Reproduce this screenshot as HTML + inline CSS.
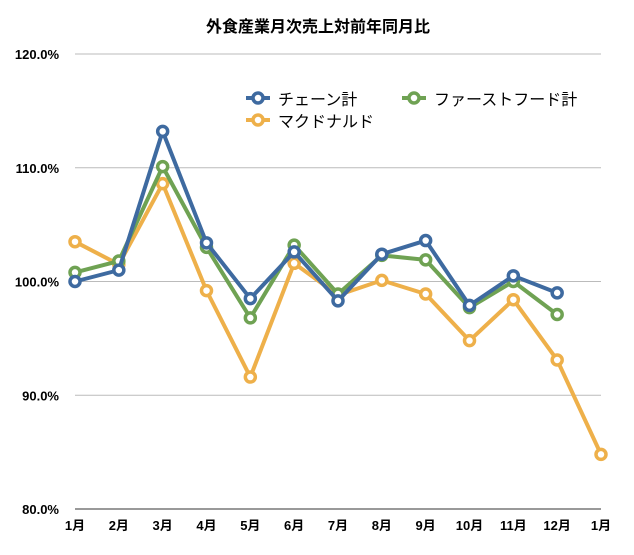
<!DOCTYPE html>
<html><head><meta charset="utf-8"><style>
body{margin:0;background:#fff;}
svg text{font-family:"Liberation Sans","Noto Sans CJK JP",sans-serif;}
</style></head><body>
<svg id="chart" width="634" height="550" xmlns="http://www.w3.org/2000/svg">
<text x="318" y="32" text-anchor="middle" font-size="16" font-weight="bold">外食産業月次売上対前年同月比</text>
<g id="grid"></g><g id="lines"></g>
<g>
 <g><line x1="246" y1="98" x2="270" y2="98" stroke="#3e6aa0" stroke-width="4"/><circle cx="258" cy="98" r="5" fill="#fff" stroke="#3e6aa0" stroke-width="3.5"/><text x="278" y="105" font-size="16">チェーン計</text></g>
 <g><line x1="402" y1="98" x2="426" y2="98" stroke="#6fa253" stroke-width="4"/><circle cx="414" cy="98" r="5" fill="#fff" stroke="#6fa253" stroke-width="3.5"/><text x="434" y="105" font-size="16">ファーストフード計</text></g>
 <g><line x1="246" y1="120" x2="270" y2="120" stroke="#eeb04a" stroke-width="4"/><circle cx="258" cy="120" r="5" fill="#fff" stroke="#eeb04a" stroke-width="3.5"/><text x="278" y="127" font-size="16">マクドナルド</text></g>
</g>
</svg>
<script>
const categories=["1月","2月","3月","4月","5月","6月","7月","8月","9月","10月","11月","12月","1月"];
const yTicks=[80,90,100,110,120];
const chainValues=[100.0,101.0,113.2,103.4,98.5,102.6,98.3,102.4,103.6,97.9,100.5,99.0];
const fastfoodValues=[100.8,101.8,110.1,103.0,96.8,103.2,98.9,102.3,101.9,97.7,100.0,97.1];
const mcdValues=[103.5,101.5,108.6,99.2,91.6,101.6,98.8,100.1,98.9,94.8,98.4,93.1,84.8];
const NS="http://www.w3.org/2000/svg";
const x=i=>75+i*(526/12);
const y=v=>509-(v-80)*11.375;
const grid=document.getElementById('grid');
yTicks.forEach((t,k)=>{
 const l=document.createElementNS(NS,'line');
 
 
 l.setAttribute('x1',75);l.setAttribute('x2',601);l.setAttribute('y1',y(t));l.setAttribute('y2',y(t));
 l.setAttribute('stroke',k===0?'#333':'#bbb');l.setAttribute('stroke-width','1');grid.appendChild(l);
 const tx=document.createElementNS(NS,'text');
 
 
 tx.setAttribute('x',59);tx.setAttribute('y',y(t)+5);tx.setAttribute('text-anchor','end');tx.setAttribute('font-size','13');tx.setAttribute('font-weight','bold');
 tx.textContent=t.toFixed(1)+'%';grid.appendChild(tx);
});
categories.forEach((c,i)=>{
 const tx=document.createElementNS(NS,'text');
 
 
 tx.setAttribute('x',x(i));tx.setAttribute('y',530);tx.setAttribute('text-anchor','middle');tx.setAttribute('font-size','13');tx.setAttribute('font-weight','bold');
 tx.textContent=c;grid.appendChild(tx);
});
const lines=document.getElementById('lines');
function series(vals,color,name){
 const g=document.createElementNS(NS,'g');
 
 
 const p=document.createElementNS(NS,'polyline');
 
 
 p.setAttribute('points',vals.map((v,i)=>x(i)+','+y(v)).join(' '));
 p.setAttribute('fill','none');p.setAttribute('stroke',color);p.setAttribute('stroke-width','4');p.setAttribute('stroke-linejoin','round');
 g.appendChild(p);
 vals.forEach((v,i)=>{
  const c=document.createElementNS(NS,'circle');
  
  
  c.setAttribute('cx',x(i));c.setAttribute('cy',y(v));c.setAttribute('r',5);
  c.setAttribute('fill','#fff');c.setAttribute('stroke',color);c.setAttribute('stroke-width','3.5');
  g.appendChild(c);
 });
 lines.appendChild(g);
}
series(mcdValues,'#eeb04a','mcdonalds-series');
series(fastfoodValues,'#6fa253','fastfood-series');
series(chainValues,'#3e6aa0','chain-series');
</script>
</body></html>
